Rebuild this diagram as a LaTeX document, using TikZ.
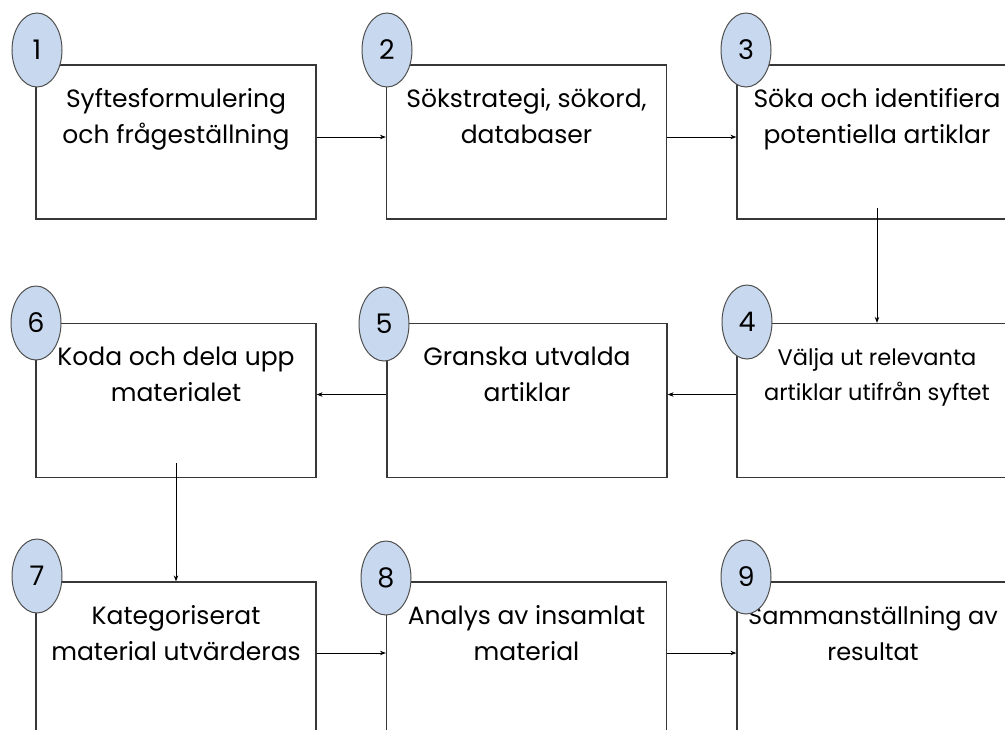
\documentclass[tikz,border=0pt]{standalone}
\usepackage{fontspec}
\setmainfont{Poppins}
\usetikzlibrary{arrows.meta,calc,shapes.geometric}
\definecolor{ellfill}{RGB}{200,217,239}
\definecolor{ellline}{RGB}{80,80,80}
\definecolor{boxline}{RGB}{55,55,55}
\tikzset{
  box/.style={draw=boxline,line width=1.2pt,rectangle,minimum width=280pt,minimum height=154pt,inner sep=0pt},
  num/.style={draw=ellline,fill=ellfill,line width=1pt,ellipse,minimum width=50pt,minimum height=74pt,inner sep=0pt,font=\fontsize{27}{30}\selectfont},
  txt/.style={align=center,inner sep=0pt,font=\fontsize{25}{36}\selectfont},
  stxt/.style={align=center,inner sep=0pt,font=\fontsize{22.5}{35}\selectfont},
  arr/.style={draw=black,line width=0.9pt,-{Stealth[length=6pt,width=4.5pt]}}
}
\begin{document}
\begin{tikzpicture}[x=1pt,y=-1pt]
\useasboundingbox (0,0) rectangle (1005,729);
\clip (0,0) rectangle (1005,729);
\fill[white] (0,0) rectangle (1005,729);
% boxes
\node[box] (b1) at (176,142) {};
\node[box] (b2) at (526.5,142) {};
\node[box] (b3) at (877,142) {};
\node[box] (b6) at (176,400.5) {};
\node[box] (b5) at (527,400.5) {};
\node[box] (b4) at (877,400.5) {};
\node[box] (b7) at (176,659) {};
\node[box] (b8) at (526.5,659) {};
\node[box] (b9) at (877,659) {};
% texts (anchor base = baseline of the last line)
\node[txt,anchor=base] (t1) at (176,143) {Syftesformulering\\och frågeställning};
\node[txt,anchor=base] (t2) at (526.5,143) {Sökstrategi, sökord,\\databaser};
\node[txt,anchor=base] (t3) at (877,143) {Söka och identifiera\\potentiella artiklar};
\node[stxt,anchor=base] (t4) at (877,400) {Välja ut relevanta\\artiklar utifrån syftet};
\node[txt,anchor=base] (t5) at (527,401) {Granska utvalda\\artiklar};
\node[txt,anchor=base] (t6) at (176,401) {Koda och dela upp\\materialet};
\node[txt,anchor=base] (t7) at (176,660) {Kategoriserat\\material utvärderas};
\node[txt,anchor=base] (t8) at (526.5,660) {Analys av insamlat\\material};
\node[txt,anchor=base,font=\fontsize{24}{36}\selectfont] (t9) at (873,660) {Sammanställning av\\resultat};
% arrows
\draw[arr] ([yshift=5pt]b1.east) -- ([yshift=5pt]b2.west);
\draw[arr] ([yshift=5pt]b2.east) -- ([yshift=5pt]b3.west);
\draw[arr] ([yshift=12pt]b3.south) -- (b4.north);
\draw[arr] ([yshift=6pt]b4.west) -- ([yshift=6pt]b5.east);
\draw[arr] ([yshift=6pt]b5.west) -- ([yshift=6pt]b6.east);
\draw[arr] ([yshift=15pt]b6.south) -- (b7.north);
\draw[arr] ([yshift=6pt]b7.east) -- ([yshift=6pt]b8.west);
\draw[arr] ([yshift=6pt]b8.east) -- ([yshift=6pt]b9.west);
% numbers
\node[num] (n1) at (37,50) {1};
\node[num] (n2) at (387,50) {2};
\node[num] (n3) at (746,50) {3};
\node[num] (n4) at (747,322) {4};
\node[num] (n5) at (384,324) {5};
\node[num] (n6) at (36,323) {6};
\node[num] (n7) at (37,576) {7};
\node[num] (n8) at (386,578) {8};
\node[num] (n9) at (746,577) {9};
\end{tikzpicture}
\end{document}
